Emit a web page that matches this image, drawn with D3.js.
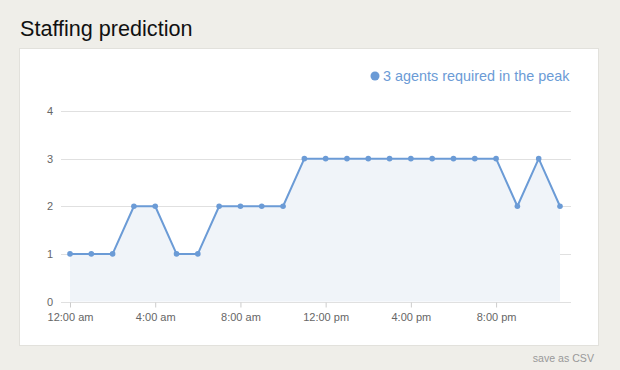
<!DOCTYPE html>
<html><head><meta charset="utf-8">
<script src="https://cdn.jsdelivr.net/npm/d3@7"></script>
<style>
html,body{margin:0;padding:0;background:#efeee9;}
svg{display:block;font-family:"Liberation Sans",Helvetica,Arial,sans-serif;}
</style></head><body>
<svg id="c" width="620" height="370"></svg>
<script>
const hours = d3.range(0, 24);
const agents = [1,1,1,2,2,1,1,2,2,2,2,3,3,3,3,3,3,3,3,3,3,2,3,2];
const yTicks = [0,1,2,3,4];
const xTicks = [0,4,8,12,16,20];
const xTickLabels = ["12:00 am","4:00 am","8:00 am","12:00 pm","4:00 pm","8:00 pm"];
const title = "Staffing prediction";
const legendText = "3 agents required in the peak";

const svg = d3.select("#c");
const blue = "#6b9bd6";

svg.append("text").attr("x",20).attr("y",36).attr("font-size",21.6).attr("fill","#111").text(title);

// card
svg.append("rect").attr("x",19.5).attr("y",48.5).attr("width",579).attr("height",297)
  .attr("fill","#fff").attr("stroke","#e2e1dc").attr("stroke-width",1);

const x = d3.scaleLinear().domain([0,23]).range([70,560]);
const y = d3.scaleLinear().domain([0,4]).range([301.5,111]);

// grid
svg.append("g").selectAll("line").data(yTicks).join("line")
  .attr("x1",61).attr("x2",571).attr("y1",d=>Math.round(y(d))+0.5).attr("y2",d=>Math.round(y(d))+0.5)
  .attr("stroke","#e0e0e0").attr("stroke-width",1);

// area
svg.append("path").datum(hours)
  .attr("d", d3.area().x(h=>x(h)).y0(y(0)).y1(h=>y(agents[h])))
  .attr("fill","#f0f4f9");

// y labels
svg.append("g").selectAll("text").data(yTicks).join("text")
  .attr("x",53).attr("y",d=>y(d)+4).attr("text-anchor","end")
  .attr("font-size",11).attr("fill","#666").text(d=>d);

// x axis
const xAxis = d3.axisBottom(x).tickValues(xTicks).tickSize(5).tickFormat((d,i)=>xTickLabels[i]);
const gx = svg.append("g").attr("transform",`translate(0,${Math.round(y(0))+0.5})`).call(xAxis);
gx.select(".domain").remove();
gx.selectAll(".tick line").attr("stroke","#ccc");
gx.selectAll(".tick text").attr("font-size",11).attr("fill","#666").attr("dy","0.95em")
  .attr("font-family","'Liberation Sans',Helvetica,Arial,sans-serif");

// line
svg.append("path").datum(hours)
  .attr("d", d3.line().x(h=>x(h)).y(h=>y(agents[h])))
  .attr("fill","none").attr("stroke",blue).attr("stroke-width",2).attr("stroke-linejoin","round");

svg.append("g").selectAll("circle").data(hours).join("circle")
  .attr("cx",h=>x(h)).attr("cy",h=>y(agents[h])).attr("r",2.8).attr("fill",blue);

// legend
svg.append("circle").attr("cx",375).attr("cy",76).attr("r",4.5).attr("fill",blue);
svg.append("text").attr("x",383).attr("y",81).attr("font-size",14.4).attr("fill",blue).text(legendText);

svg.append("text").attr("x",594).attr("y",362).attr("text-anchor","end").attr("font-size",10.6)
  .attr("fill","#999").text("save as CSV");
</script></body></html>
